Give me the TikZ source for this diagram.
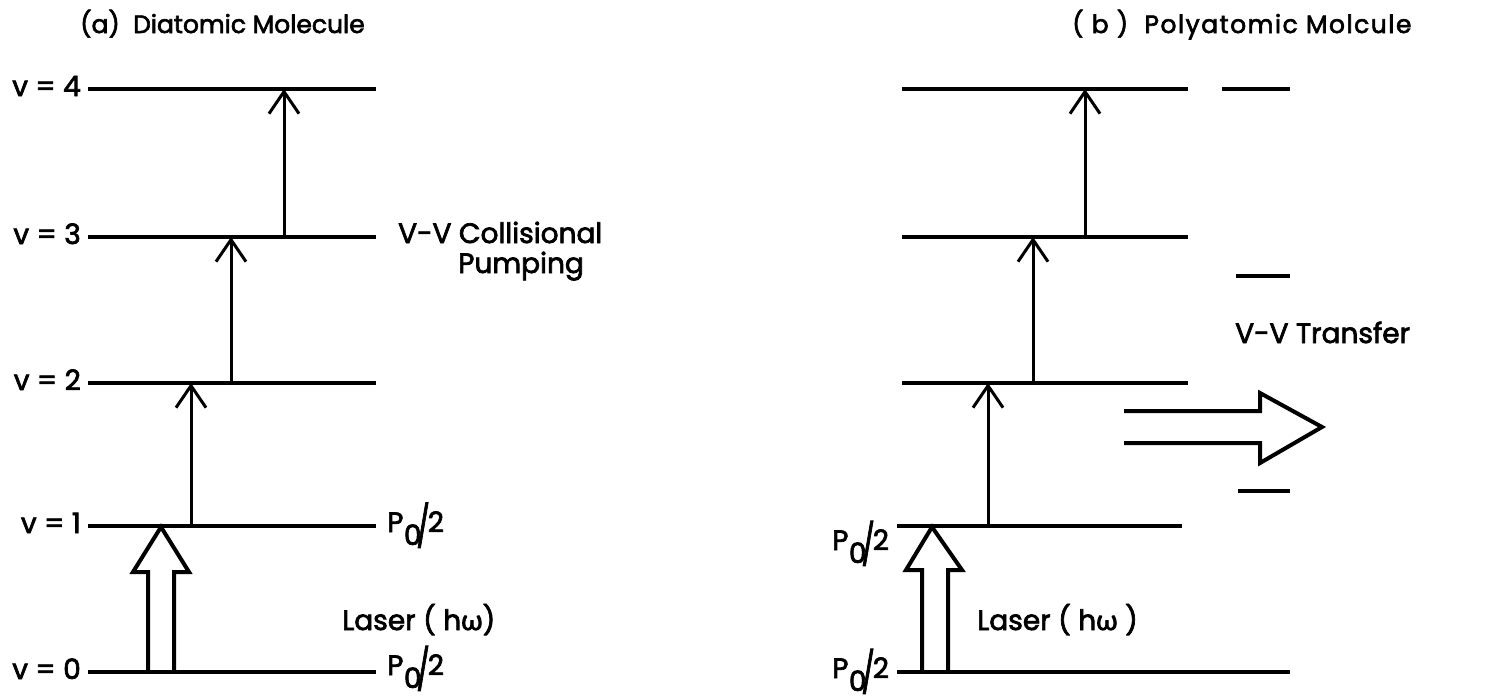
\documentclass[tikz,border=0pt]{standalone}
\usepackage{fontspec}
\usepackage{graphicx}
\setmainfont{Poppins}[FakeBold=2.5]
\newfontfamily\grk{Lato}[FakeBold=2.5]
\usetikzlibrary{arrows.meta}
\newcommand{\Phalf}{P\kern0.5pt\raisebox{-13pt}{0}\kern-5pt\raisebox{-9pt}{\scalebox{1}[1.45]{/}}\kern-2pt 2}
\begin{document}
\begin{tikzpicture}[x=1pt,y=-1pt,
  level/.style={line width=3.8pt},
  upar/.style={line width=3pt,-{Straight Barb[length=22pt,width=30pt,line width=3pt]}},
  hollow/.style={line width=4pt,line join=miter},
  txt/.style={inner sep=0pt,anchor=base west,font=\fontsize{28}{32}\selectfont},
  ttl/.style={inner sep=0pt,anchor=base west,font=\fontsize{25}{30}\selectfont}]
\useasboundingbox (0,0) rectangle (1503,696);
% ---------- (a) ----------
\node[ttl] (ta) at (80,33) {(a)\ \ Diatomic Molecule};
\foreach \n/\y in {0/672,1/526,2/383,3/237,4/89}{
  \coordinate (a\n w) at (88,\y);
  \coordinate (a\n e) at (376,\y);
  \draw[level] (a\n w) -- (a\n e);
  \node[txt,anchor=base east] (va\n) at (81,\y+7) {v = \n};
}
\coordinate (a1s) at (191,526); \coordinate (a2t) at (191,383);
\coordinate (a2s) at (231,383); \coordinate (a3t) at (231,237);
\coordinate (a3s) at (284,237); \coordinate (a4t) at (284,89);
\draw[upar] (a1s) -- (a2t);
\draw[upar] (a2s) -- (a3t);
\draw[upar] (a3s) -- (a4t);
\draw[hollow] (148,672) -- (148,572) -- (133,572) -- (161,527) -- (189,572) -- (174,572) -- (174,672);
\node[txt] (pa1) at (387,532) {\Phalf};
\node[txt] (pa0) at (387,675) {\Phalf};
\node[txt] (la) at (342,630) {Laser ( h{\grk ω})};
\node[txt] (vva) at (398,243) {V-V Collisional};
\node[txt] (pump) at (458,273) {Pumping};
% ---------- (b) ----------
\node[ttl] (tb) at (1072,33) {\addfontfeature{LetterSpace=6}( b )\ \ Polyatomic Molcule};
\foreach \n/\y in {2/383,3/237,4/89}{
  \coordinate (b\n w) at (902,\y);
  \coordinate (b\n e) at (1188,\y);
  \draw[level] (b\n w) -- (b\n e);
}
\coordinate (b1w) at (897,526); \coordinate (b1e) at (1182,526);
\draw[level] (b1w) -- (b1e);
\coordinate (b0w) at (897,672); \coordinate (b0e) at (1290,672);
\draw[level] (b0w) -- (b0e);
\coordinate (r1w) at (1222,89); \coordinate (r1e) at (1290,89);
\coordinate (r2w) at (1236,276); \coordinate (r2e) at (1290,276);
\coordinate (r3w) at (1238,491); \coordinate (r3e) at (1290,491);
\draw[level] (r1w) -- (r1e);
\draw[level] (r2w) -- (r2e);
\draw[level] (r3w) -- (r3e);
\coordinate (b1s) at (988,526); \coordinate (b2t) at (988,383);
\coordinate (b2s) at (1033,383); \coordinate (b3t) at (1033,237);
\coordinate (b3s) at (1085,237); \coordinate (b4t) at (1085,89);
\draw[upar] (b1s) -- (b2t);
\draw[upar] (b2s) -- (b3t);
\draw[upar] (b3s) -- (b4t);
\draw[hollow] (922,672) -- (922,570) -- (906,570) -- (932,527) -- (962,570) -- (948,570) -- (948,672);
\draw[hollow] (1124,411) -- (1260,411) -- (1260,393) -- (1322,427) -- (1260,463) -- (1260,443) -- (1124,443);
\node[txt] (pb1) at (832,550) {\Phalf};
\node[txt] (pb0) at (832,678) {\Phalf};
\node[txt] (lb) at (977,630) {Laser ( h{\grk ω} )};
\node[txt] (vvb) at (1235,343) {V-V Transfer};
\end{tikzpicture}
\end{document}
